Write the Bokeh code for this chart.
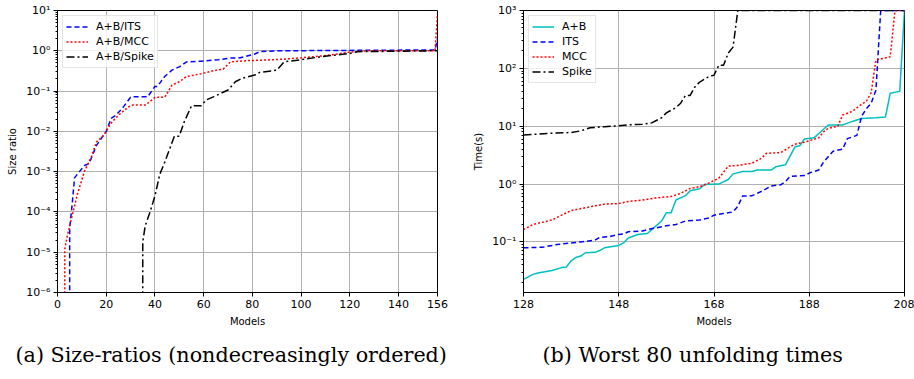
from bokeh.plotting import figure
from bokeh.layouts import row
from bokeh.models import Range1d, FixedTicker, CustomJSTickFormatter, Title
from bokeh.embed import file_html
from bokeh.resources import INLINE

# ---------------- data: (a) size ratios ----------------
its_x = [0, 4, 5, 6, 7, 9, 11, 13, 16, 20, 22, 24, 27, 30, 31, 37, 40, 41, 44, 47, 50, 53, 59, 66, 71, 75, 81, 83, 90, 155, 156]
its_y = [0, 0, 4e-5, 1.5e-4, 7e-4, 1e-3, 1.4e-3, 1.6e-3, 4.5e-3, 1e-2, 2.1e-2, 2.5e-2, 4e-2, 7e-2, 7.2e-2, 7.2e-2, 0.13, 0.13,
         0.23, 0.33, 0.4, 0.53, 0.55, 0.6, 0.66, 0.67, 0.83, 0.95, 1.0, 1.05, 2.0]

mcc_x = [0, 2, 3, 4, 5, 6, 8, 11, 14, 16, 19, 22, 25, 29, 31, 36, 38, 40, 44, 47, 50, 53, 59, 64, 68, 71, 78, 86, 93, 100,
         108, 113, 120, 127, 155, 156]
mcc_y = [0, 0, 1.2e-5, 2.5e-5, 4.5e-5, 8e-5, 2.5e-4, 1e-3, 2.4e-3, 5.5e-3, 8e-3, 1.6e-2, 2.5e-2, 4e-2, 4.5e-2, 4.5e-2, 5.5e-2,
         7e-2, 7e-2, 0.14, 0.17, 0.23, 0.27, 0.32, 0.35, 0.53, 0.57, 0.59, 0.62, 0.67, 0.74, 0.8, 0.93, 1.0, 1.0, 8.5]

spk_x = [0, 34, 35, 36, 38, 40, 42, 44, 46, 48, 50, 52, 55, 59, 61, 64, 70, 73, 76, 81, 83, 90, 93, 100, 106, 113, 120,
         123, 156]
spk_y = [0, 0, 1.8e-5, 4.5e-5, 1e-4, 2.5e-4, 8.6e-4, 1.7e-3, 3.6e-3, 7.6e-3, 7.6e-3, 0.017, 0.043, 0.043, 0.06, 0.072,
         0.106, 0.17, 0.21, 0.25, 0.29, 0.33, 0.53, 0.6, 0.68, 0.77, 0.86, 0.95, 1.0]

# ---------------- data: (b) worst 80 unfolding times ----------------
ab_x = [128, 130, 131, 134, 136, 137, 138, 139, 140, 141, 143, 144, 145, 148, 149, 150, 152, 154, 155, 157, 158, 159,
        160, 162, 163, 165, 166, 169, 171, 172, 174, 176, 177, 180, 181, 183, 185, 186, 187, 189, 190, 192, 195, 196,
        198, 199, 202, 204, 205, 207, 208]
ab_y = [0.0225, 0.0275, 0.029, 0.032, 0.036, 0.037, 0.047, 0.054, 0.057, 0.065, 0.066, 0.071, 0.079, 0.087, 0.096,
        0.117, 0.134, 0.14, 0.165, 0.23, 0.32, 0.32, 0.53, 0.63, 0.77, 0.83, 0.98, 1.0, 1.2, 1.5, 1.65, 1.65, 1.75,
        1.75, 2.0, 2.15, 4.4, 4.6, 6.0, 6.3, 7.5, 10.5, 10.5, 11.3, 12.8, 13.6, 14.0, 14.5, 37, 40, 1000]

itsb_x = [128, 132, 135, 138, 140, 143, 144, 146, 148, 149, 150, 153, 155, 158, 160, 162, 165, 167, 168, 170, 172, 173,
          174, 176, 178, 180, 182, 183, 184, 187, 188, 190, 191, 193, 195, 196, 198, 199, 200, 201, 202, 203, 208]
itsb_y = [0.079, 0.081, 0.09, 0.096, 0.1, 0.107, 0.12, 0.123, 0.135, 0.137, 0.15, 0.155, 0.17, 0.19, 0.2, 0.23, 0.24,
          0.26, 0.29, 0.31, 0.33, 0.41, 0.62, 0.63, 0.75, 0.93, 0.97, 1.1, 1.36, 1.4, 1.55, 1.75, 2.4, 3.7, 4.0, 6.1,
          6.95, 15, 20, 25, 42, 1000, 1000]

mccb_x = [128, 130, 134, 136, 138, 141, 143, 145, 148, 150, 153, 156, 159, 161, 163, 165, 167, 169, 170, 171, 173, 176,
          178, 179, 182, 184, 185, 187, 190, 191, 192, 194, 195, 197, 199, 200, 201, 202, 205, 206, 208]
mccb_y = [0.163, 0.2, 0.24, 0.29, 0.35, 0.39, 0.42, 0.45, 0.46, 0.5, 0.53, 0.58, 0.61, 0.69, 0.84, 0.9, 1.05, 1.26,
          1.6, 2.05, 2.1, 2.3, 2.8, 3.4, 3.5, 4.4, 4.9, 5.3, 6.3, 8.0, 9.2, 10, 15.6, 18, 24, 27, 38, 140, 158, 1000, 1000]

spkb_x = [128, 133, 138, 140, 142, 145, 148, 150, 153, 155, 157, 158, 160, 161, 162, 163, 164, 165, 167, 168, 169, 170,
          171, 172, 173, 208]
spkb_y = [7.05, 7.5, 7.8, 8.3, 9.4, 9.8, 10.2, 10.6, 10.8, 11.5, 14, 17, 21, 25, 34, 34, 48, 58, 73, 76, 113, 113, 184,
          233, 1000, 1000]

a_xticks = [0, 20, 40, 60, 80, 100, 120, 140, 156]
b_xticks = [128, 148, 168, 188, 208]
a_labels = ["A+B/ITS", "A+B/MCC", "A+B/Spike"]
b_labels = ["A+B", "ITS", "MCC", "Spike"]
caption_a = "(a) Size-ratios (nondecreasingly ordered)"
caption_b = "(b) Worst 80 unfolding times"


def clip0(vals):
    # log scale: non-positive values are clipped to a tiny number (like matplotlib)
    return [v if v > 0 else 1e-300 for v in vals]


SUP_JS = r"""
const sup = {"-": "\u207b", "0": "\u2070", "1": "\u00b9", "2": "\u00b2", "3": "\u00b3",
             "4": "\u2074", "5": "\u2075", "6": "\u2076", "7": "\u2077", "8": "\u2078", "9": "\u2079"};
const e = Math.round(Math.log10(tick));
return "10" + String(e).split("").map(c => sup[c]).join("");
"""

FONT = "DejaVu Sans"
DASH = "5 3"
DOT = "2 2"
DASHDOT = "8 3 2 3"


def style(p, xticks, emin, emax, ylabel):
    p.outline_line_color = "black"
    p.outline_line_width = 1
    p.xaxis.ticker = FixedTicker(ticks=xticks)
    majors = [10.0 ** e for e in range(emin, emax + 1)]
    minors = [k * 10.0 ** e for e in range(emin - 1, emax) for k in range(2, 10)]
    p.yaxis.ticker = FixedTicker(ticks=majors, minor_ticks=minors)
    p.yaxis.formatter = CustomJSTickFormatter(code=SUP_JS)
    for ax in (p.xaxis[0], p.yaxis[0]):
        ax.major_label_text_font = FONT
        ax.major_label_text_font_size = "11px"
        ax.major_label_text_color = "black"
        ax.axis_label_text_font = FONT
        ax.axis_label_text_font_size = "10px"
        ax.axis_label_text_font_style = "normal"
        ax.axis_label_text_color = "black"
        ax.axis_line_color = "black"
        ax.major_tick_line_color = "black"
        ax.minor_tick_line_color = "black"
        ax.major_tick_out = 4
        ax.major_tick_in = 0
        ax.minor_tick_out = 2
        ax.minor_tick_in = 0
        ax.major_label_standoff = 3
        ax.axis_label_standoff = 5
    p.xaxis.minor_tick_line_color = None
    p.xaxis.axis_label = "Models"
    p.yaxis.axis_label = ylabel
    p.grid.grid_line_color = "#b0b0b0"
    p.grid.grid_line_width = 1


def style_legend(p):
    lg = p.legend[0]
    lg.location = "top_left"
    lg.margin = 5
    lg.padding = 3
    lg.spacing = 0
    lg.glyph_width = 22
    lg.glyph_height = 15
    lg.label_height = 15
    lg.label_standoff = 8
    lg.label_text_font = FONT
    lg.label_text_font_size = "11px"
    lg.label_text_color = "black"
    lg.border_line_color = "#cccccc"
    lg.border_line_width = 1
    lg.background_fill_alpha = 0.8


def caption(p, text, offset):
    p.add_layout(Title(text=text, align="left", offset=offset, standoff=23,
                       text_font="DejaVu Serif", text_font_size="20.7px",
                       text_font_style="normal", text_color="black"), "below")


# ---------------- figure (a) ----------------
p1 = figure(width=457, height=378, y_axis_type="log", output_backend="svg", toolbar_location=None,
            x_range=Range1d(0, 156), y_range=Range1d(1e-6, 10),
            min_border_left=57, min_border_right=20, min_border_top=10, min_border_bottom=85)
p1.line(its_x, clip0(its_y), line_color="#0000ff", line_width=1.5, line_dash=DASH, legend_label=a_labels[0])
p1.line(mcc_x, clip0(mcc_y), line_color="#ff0000", line_width=1.5, line_dash=DOT, legend_label=a_labels[1])
p1.line(spk_x, clip0(spk_y), line_color="#000000", line_width=1.5, line_dash=DASHDOT, legend_label=a_labels[2])
style(p1, a_xticks, -6, 1, "Size ratio")
style_legend(p1)
caption(p1, caption_a, -42)

# ---------------- figure (b) ----------------
p2 = figure(width=457, height=378, y_axis_type="log", output_backend="svg", toolbar_location=None,
            x_range=Range1d(128, 208), y_range=Range1d(10 ** -1.874, 1000),
            min_border_left=66, min_border_right=10, min_border_top=10, min_border_bottom=85)
p2.line(ab_x, ab_y, line_color="#00bfbf", line_width=1.5, legend_label=b_labels[0])
p2.line(itsb_x, itsb_y, line_color="#0000ff", line_width=1.5, line_dash=DASH, legend_label=b_labels[1])
p2.line(mccb_x, mccb_y, line_color="#ff0000", line_width=1.5, line_dash=DOT, legend_label=b_labels[2])
p2.line(spkb_x, spkb_y, line_color="#000000", line_width=1.5, line_dash=DASHDOT, legend_label=b_labels[3])
style(p2, b_xticks, -1, 3, "Time(s)")
style_legend(p2)
caption(p2, caption_b, 19)

layout = row(p1, p2)
open("out.html", "w").write(file_html(layout, INLINE))
